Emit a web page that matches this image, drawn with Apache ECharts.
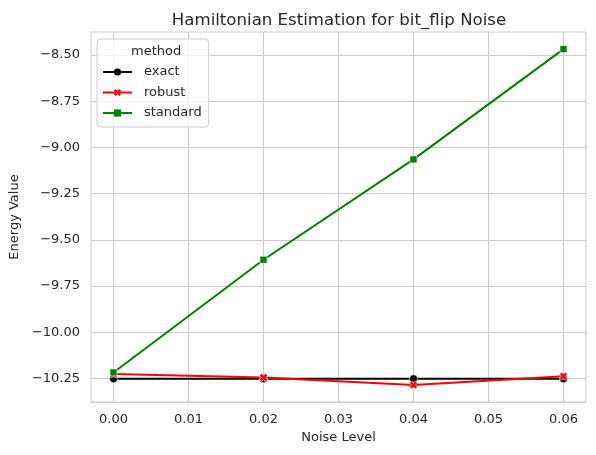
<!DOCTYPE html>
<html>
<head>
<meta charset="utf-8">
<script src="https://cdn.jsdelivr.net/npm/echarts@6/dist/echarts.min.js"></script>
<style>
  html, body { margin: 0; padding: 0; background: #fff; }
  #chart { width: 596px; height: 455px; }
</style>
</head>
<body>
<div id="chart"></div>
<script>
// 数据
var noise_levels = [0.00, 0.02, 0.04, 0.06];
var exact_values = [-10.252, -10.252, -10.252, -10.252];
var robust_values = [-10.227, -10.245, -10.286, -10.238];
var standard_values = [-10.218, -9.608, -9.065, -8.468];

var x_ticks = [0.00, 0.01, 0.02, 0.03, 0.04, 0.05, 0.06];
var y_ticks = [-10.25, -10.00, -9.75, -9.50, -9.25, -9.00, -8.75, -8.50];

var text_color = '#262626';
var grid_color = '#cccccc';
var font = 'DejaVu Sans';

// x 形标记（粗一点）
var x_marker = 'path://M0,2.6 L2.6,0 L5,2.4 L7.4,0 L10,2.6 L7.6,5 L10,7.4 L7.4,10 L5,7.6 L2.6,10 L0,7.4 L2.4,5 Z';

function minus(v, n){
    return v.toFixed(n).replace('-', '\u2212');
}

function pairs(xs, ys){
    var out = [];
    for (var i = 0; i < xs.length; i++) out.push([xs[i], ys[i]]);
    return out;
}

function makeSeries(name, values, color, symbol, size){
    return {
        name: name,
        type: 'line',
        data: pairs(noise_levels, values),
        symbol: symbol,
        symbolSize: size,
        lineStyle: { color: color, width: 2 },
        itemStyle: { color: color, borderColor: '#ffffff', borderWidth: 0.6 },
        emphasis: { disabled: true },
        animation: false
    };
}

var option = {
    backgroundColor: '#ffffff',
    textStyle: { fontFamily: font },
    title: {
        text: 'Hamiltonian Estimation for bit_flip Noise',
        left: 334, top: 7, textAlign: 'center',
        textStyle: { fontFamily: font, fontSize: 16.6, fontWeight: 'normal', color: text_color }
    },
    graphic: [{
        type: 'text',
        z: 100,
        left: 131, top: 45,
        style: { text: 'method', font: '13px "DejaVu Sans"', fill: text_color }
    }],
    legend: {
        orient: 'vertical',
        left: 97, top: 39,
        padding: [26, 7, 7, 5],
        itemWidth: 29, itemHeight: 9, itemGap: 6.5,
        backgroundColor: 'rgba(255,255,255,0.8)',
        borderColor: grid_color, borderWidth: 1, borderRadius: 4,
        itemStyle: { borderWidth: 0 },
        textStyle: { fontFamily: font, fontSize: 13, lineHeight: 14, color: text_color, padding: [0, 0, 0, 7] },
        data: ['exact', 'robust', 'standard']
    },
    grid: {
        left: 90, right: 10, top: 32, bottom: 53,
        show: true, borderColor: grid_color, borderWidth: 1
    },
    xAxis: {
        type: 'value',
        min: -0.003, max: 0.063,
        name: 'Noise Level', nameLocation: 'middle', nameGap: 29,
        nameTextStyle: { fontFamily: font, fontSize: 13, color: text_color },
        axisLine: { show: true, lineStyle: { color: grid_color } },
        axisTick: { show: false, customValues: x_ticks },
        axisLabel: {
            customValues: x_ticks, margin: 11,
            fontFamily: font, fontSize: 13, color: text_color,
            formatter: function(v){ return minus(v, 2); }
        },
        splitLine: { show: true, lineStyle: { color: grid_color, width: 1 } }
    },
    yAxis: {
        type: 'value',
        min: -10.378, max: -8.3755,
        name: 'Energy Value', nameLocation: 'middle', nameGap: 67,
        nameTextStyle: { fontFamily: font, fontSize: 13, color: text_color },
        axisLine: { show: true, lineStyle: { color: grid_color } },
        axisTick: { show: false, customValues: y_ticks },
        axisLabel: {
            customValues: y_ticks, margin: 11,
            fontFamily: font, fontSize: 13, color: text_color,
            formatter: function(v){ return minus(v, 2); }
        },
        splitLine: { show: true, lineStyle: { color: grid_color, width: 1 } }
    },
    series: [
        makeSeries('exact', exact_values, '#000000', 'circle', 8),
        makeSeries('robust', robust_values, '#ff0000', x_marker, 8),
        makeSeries('standard', standard_values, '#008000', 'rect', 7)
    ]
};

var chart = echarts.init(document.getElementById('chart'));
chart.setOption(option);
</script>
</body>
</html>
